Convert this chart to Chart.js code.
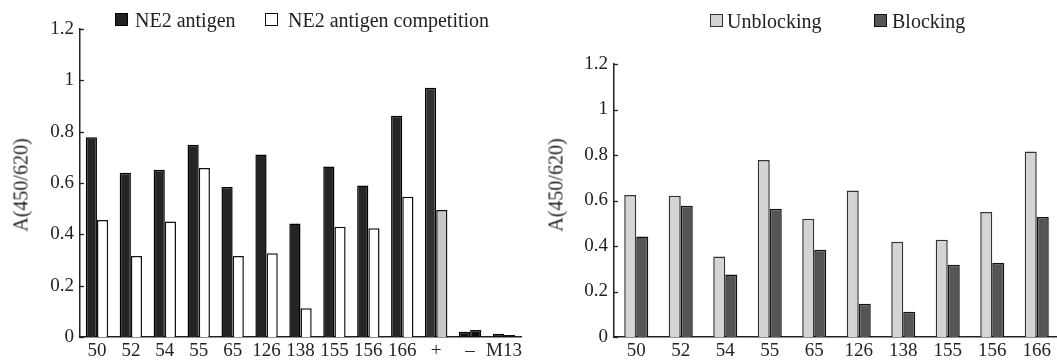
<!DOCTYPE html>
<html><head><meta charset="utf-8">
<script src="https://cdn.jsdelivr.net/npm/chart.js@4.4.0/dist/chart.umd.min.js"></script>
<style>
html,body{margin:0;padding:0;background:#fff;overflow:hidden;width:1057px;height:364px;}
#wrap{position:relative;width:1057px;height:364px;overflow:hidden;font-family:"Liberation Serif","DejaVu Serif",serif;color:#222;}
canvas{position:absolute;top:0;}
.lg{position:absolute;font-size:20px;line-height:20px;white-space:nowrap;}
.sw{position:absolute;width:13px;height:13px;box-sizing:border-box;}
.yt{position:absolute;font-size:20px;white-space:nowrap;transform:translate(-50%,-50%) rotate(-90deg);}
</style></head>
<body><div id="wrap">
<canvas id="c1" width="530" height="364" style="left:0"></canvas>
<canvas id="c2" width="540" height="364" style="left:530px"></canvas>
<div class="sw" style="left:115px;top:13px;background:#222;border:1px solid #000"></div>
<div class="lg" style="left:135px;top:10px">NE2 antigen</div>
<div class="sw" style="left:265px;top:13px;background:#fff;border:1.3px solid #111"></div>
<div class="lg" style="left:288px;top:10px">NE2 antigen competition</div>
<div class="sw" style="left:710px;top:14px;background:#d4d4d4;border:1.3px solid #333"></div>
<div class="lg" style="left:727px;top:11px">Unblocking</div>
<div class="sw" style="left:874px;top:14px;background:#555;border:1.3px solid #111"></div>
<div class="lg" style="left:892px;top:11px">Blocking</div>
<div class="yt" style="left:21px;top:185px">A(450/620)</div>
<div class="yt" style="left:556px;top:185px">A(450/620)</div>
</div>
<script>
const leftCategories = ['50','52','54','55','65','126','138','155','156','166','+','–','M13'];
const ne2Antigen = [0.778,0.64,0.652,0.749,0.584,0.711,0.442,0.664,0.59,0.862,0.971,0.02,0.013];
const ne2Competition = [0.456,0.316,0.45,0.658,0.316,0.326,0.112,0.43,0.424,0.546,0.495,0.027,0.008];
const ne2AntigenColors = ['#252525','#252525','#252525','#252525','#252525','#252525','#252525','#252525','#252525','#252525','#333333','#111111','#111111'];
const ne2CompetitionColors = ['#ffffff','#ffffff','#ffffff','#ffffff','#ffffff','#ffffff','#ffffff','#ffffff','#ffffff','#ffffff','#c8c8c8','#111111','#111111'];

const rightCategories = ['50','52','54','55','65','126','138','155','156','166'];
const unblocking = [0.624,0.621,0.354,0.778,0.52,0.644,0.419,0.428,0.549,0.815];
const blocking = [0.442,0.577,0.275,0.564,0.384,0.146,0.111,0.318,0.325,0.527];

const yTickLabels = ['0','0.2','0.4','0.6','0.8','1','1.2'];

const FONT = {family:'"Liberation Serif", serif', size:19};
const TXT = '#222';

const innerTicks = {
  id:'innerTicks',
  afterDraw(chart){
    const y = chart.scales.y, ctx = chart.ctx, l = chart.chartArea.left;
    ctx.save(); ctx.strokeStyle='#222'; ctx.lineWidth=1.3;
    y.ticks.forEach(t=>{
      const p = Math.round(y.getPixelForValue(t.value))+0.5;
      ctx.beginPath(); ctx.moveTo(l,p); ctx.lineTo(l+4,p); ctx.stroke();
    });
    ctx.restore();
  }
};

function makeOpts(yWidth, pad, catPct){
  return {
    responsive:false, animation:false, devicePixelRatio:1,
    layout:{padding:pad},
    plugins:{legend:{display:false}, tooltip:{enabled:false}},
    datasets:{bar:{categoryPercentage:catPct, barPercentage:1}},
    scales:{
      x:{
        grid:{display:false, drawTicks:false},
        border:{display:true,color:'#222',width:1.5},
        ticks:{color:TXT,font:FONT,padding:3,maxRotation:0,autoSkip:false},
        afterFit(s){ s.height = 27; }
      },
      y:{
        min:0,max:1.2,
        grid:{display:false, drawTicks:false},
        border:{display:true,color:'#222',width:1.5},
        ticks:{color:TXT,font:FONT,padding:6,stepSize:0.2,
          callback:(v,i)=>yTickLabels[i]},
        afterFit(s){ s.width = yWidth; }
      }
    }
  };
}

new Chart(document.getElementById('c1'),{
  type:'bar',
  data:{labels:leftCategories,datasets:[
    {label:'NE2 antigen',data:ne2Antigen,backgroundColor:ne2AntigenColors,borderColor:'#000',borderWidth:1.5},
    {label:'NE2 antigen competition',data:ne2Competition,backgroundColor:ne2CompetitionColors,borderColor:'#111',borderWidth:1.5}
  ]},
  options:makeOpts(80,{top:29,right:9,bottom:0,left:0},0.66),
  plugins:[innerTicks]
});

new Chart(document.getElementById('c2'),{
  type:'bar',
  data:{labels:rightCategories,datasets:[
    {label:'Unblocking',data:unblocking,backgroundColor:'#d4d4d4',borderColor:'#333',borderWidth:1.5},
    {label:'Blocking',data:blocking,backgroundColor:'#555555',borderColor:'#111',borderWidth:1.5}
  ]},
  options:makeOpts(84,{top:64,right:11,bottom:0,left:0},0.54),
  plugins:[innerTicks]
});
</script>
</body></html>
